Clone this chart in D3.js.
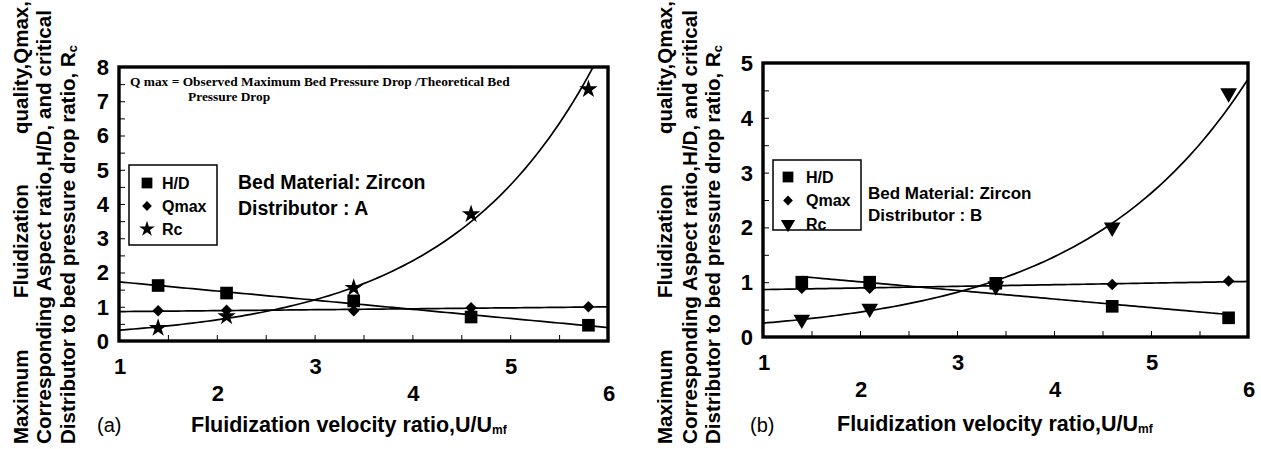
<!DOCTYPE html>
<html>
<head>
<meta charset="utf-8">
<script src="https://cdn.jsdelivr.net/npm/d3@7"></script>
<style>
  body { margin: 0; background: #fff; }
  svg { display: block; font-family: Arial, "Liberation Sans", sans-serif; }
</style>
</head>
<body>
<div id="chart"></div>
<script>
// velocity ratio U/Umf of the five runs (same for both distributors)
const velocity = [1.4, 2.1, 3.4, 4.6, 5.8];

// distributor A
const hdA = [1.62, 1.4, 1.17, 0.7, 0.46];
const qmaxA = [0.88, 0.9, 0.88, 0.97, 1.0];
const rcA = [0.38, 0.72, 1.55, 3.7, 7.35];

// distributor B
const hdB = [1.0, 1.0, 0.98, 0.56, 0.35];
const qmaxB = [0.89, 0.89, 0.93, 0.96, 1.02];
const rcB = [0.32, 0.52, 0.93, 2.0, 4.45];

const xTicks = [1, 2, 3, 4, 5, 6];
const yTicksA = [0, 1, 2, 3, 4, 5, 6, 7, 8];
const yTicksB = [0, 1, 2, 3, 4, 5];
const legendNames = ['H/D', 'Qmax', 'Rc'];

const W = 1261, H = 449;
const svg = d3.select('#chart').append('svg')
  .attr('width', W)
  .attr('height', H)
  .attr('viewBox', [0, 0, W, H]);

svg.append('rect').attr('width', W).attr('height', H).attr('fill', '#fff');

// simple least squares, linear or on ln(y) for the exponential trend
function linFit(xs, ys) {
  const mx = d3.mean(xs), my = d3.mean(ys);
  let sxy = 0, sxx = 0;
  xs.forEach((x, i) => {
    sxy += (x - mx) * (ys[i] - my);
    sxx += (x - mx) * (x - mx);
  });
  const b = sxy / sxx;
  return { b, a: my - b * mx };
}

function linTrend(xs, ys) {
  const f = linFit(xs, ys);
  return x => f.a + f.b * x;
}

function expTrend(xs, ys) {
  const f = linFit(xs, ys.map(Math.log));
  return x => Math.exp(f.a + f.b * x);
}

const diamond = d3.symbol().type(d3.symbolSquare).size(66);
const square = d3.symbol().type(d3.symbolSquare).size(160);
const star = d3.symbol().type(d3.symbolStar).size(105);
const tri = d3.symbol().type(d3.symbolTriangle).size(120);

function drawPanel(p) {
  const x = d3.scaleLinear().domain([1, 6]).range([p.left, p.right]);
  const y = d3.scaleLinear().domain([0, p.yMax]).range([p.bottom, p.top]);
  const g = svg.append('g');

  const clipId = 'clip' + p.id;
  g.append('clipPath').attr('id', clipId)
    .append('rect')
    .attr('x', p.left).attr('y', p.top)
    .attr('width', p.right - p.left).attr('height', p.bottom - p.top);

  // ticks every 0.5, drawn inward
  const xAxis = d3.axisTop(x).tickValues(d3.range(1, 6.01, 0.5)).tickSize(6).tickFormat('');
  g.append('g').attr('transform', `translate(0,${p.bottom})`).call(xAxis)
    .call(a => a.select('.domain').remove())
    .selectAll('line').attr('stroke', '#000').attr('stroke-width', 1);

  const yAxis = d3.axisRight(y).tickValues(d3.range(0, p.yMax + 0.01, 0.5)).tickSize(6).tickFormat('');
  g.append('g').attr('transform', `translate(${p.left},0)`).call(yAxis)
    .call(a => a.select('.domain').remove())
    .selectAll('line').attr('stroke', '#000').attr('stroke-width', 1);

  // tick labels
  g.append('g').selectAll('text').data(p.yTicks).join('text')
    .attr('x', p.left - 10)
    .attr('y', d => y(d))
    .attr('dy', '0.36em')
    .attr('text-anchor', 'end')
    .attr('font-size', 22)
    .attr('font-weight', 'bold')
    .text(d => d);

  g.append('g').selectAll('text').data(xTicks).join('text')
    .attr('x', d => x(d) + 1)
    .attr('y', d => d % 2 === 1 ? p.bottom + 33 : p.bottom + 60)
    .attr('text-anchor', 'middle')
    .attr('font-size', 22)
    .attr('font-weight', 'bold')
    .text(d => d);

  // trend lines
  const lines = g.append('g').attr('clip-path', `url(#${clipId})`)
    .attr('fill', 'none').attr('stroke', '#000').attr('stroke-width', 1.7);
  p.series.forEach(s => {
    const [x0, x1] = s.span;
    const pts = d3.range(0, 101).map(i => {
      const xv = x0 + (x1 - x0) * i / 100;
      return [xv, s.trend(xv)];
    });
    lines.append('path')
      .attr('d', d3.line().x(d => x(d[0])).y(d => y(d[1]))(pts));
  });

  // markers
  p.series.forEach(s => {
    g.append('g').selectAll('path').data(s.values).join('path')
      .attr('transform', (d, i) => `translate(${x(velocity[i])},${y(d)}) rotate(${s.rot})`)
      .attr('d', s.shape)
      .attr('fill', '#000');
  });

  // frame
  g.append('rect')
    .attr('x', p.left).attr('y', p.top)
    .attr('width', p.right - p.left).attr('height', p.bottom - p.top)
    .attr('fill', 'none').attr('stroke', '#000').attr('stroke-width', 3.4);

  // legend
  const lg = g.append('g').attr('transform', `translate(${p.legend[0]},${p.legend[1]})`);
  lg.append('rect')
    .attr('width', p.legend[2]).attr('height', p.legend[3])
    .attr('fill', '#fff').attr('stroke', '#000').attr('stroke-width', 1.5);
  p.series.forEach((s, i) => {
    const yy = p.legendRow0 + i * p.legendStep;
    lg.append('path')
      .attr('transform', `translate(${p.legendMarkX},${yy}) rotate(${s.rot}) scale(0.85)`)
      .attr('d', s.shape).attr('fill', '#000');
    lg.append('text')
      .attr('x', p.legendTextX).attr('y', yy).attr('dy', '0.36em')
      .attr('font-size', 16).attr('font-weight', 'bold')
      .text(legendNames[i]);
  });

  // annotations
  p.labels.forEach(l => {
    g.append('text')
      .attr('x', l[0]).attr('y', l[1])
      .attr('font-size', p.labelSize).attr('font-weight', 'bold')
      .text(l[2]);
  });

  // x title with subscript
  const xt = g.append('text')
    .attr('x', p.xTitle[0]).attr('y', p.xTitle[1])
    .attr('font-size', 21.5).attr('font-weight', 'bold');
  xt.append('tspan').text('Fluidization velocity ratio,U/U');
  xt.append('tspan').attr('font-size', 12).attr('dy', 2).text('mf');

  g.append('text')
    .attr('x', p.tag[0]).attr('y', p.tag[1])
    .attr('font-size', 20)
    .text(p.tag[2]);

  // y title, three rotated lines
  const cols = p.yTitleX;
  const rot = (tx, ty) => `translate(${tx},${ty}) rotate(-90)`;
  const yt = g.append('g').attr('font-size', 20.5).attr('font-weight', 'bold');
  yt.append('text').attr('transform', rot(cols[0], 444)).text('Maximum');
  yt.append('text').attr('transform', rot(cols[0], 298)).text('Fluidization');
  yt.append('text').attr('transform', rot(cols[0], 134)).text('quality,Qmax,');
  yt.append('text').attr('transform', rot(cols[1], 444))
    .attr('textLength', 434).attr('lengthAdjust', 'spacingAndGlyphs')
    .text('Corresponding Aspect ratio,H/D, and critical');
  const t3 = yt.append('text').attr('transform', rot(cols[2], 444));
  t3.append('tspan').text('Distributor to bed pressure drop ratio, R');
  t3.append('tspan').attr('font-size', 13).attr('dy', 2).text('c');
}

const trendSpan = [1, 6];

drawPanel({
  id: 'a', left: 119, right: 608, top: 67, bottom: 341, yMax: 8, yTicks: yTicksA,
  series: [
    { values: hdA, shape: square, rot: 0, trend: linTrend(velocity, hdA), span: trendSpan },
    { values: qmaxA, shape: diamond, rot: 45, trend: linTrend(velocity, qmaxA), span: trendSpan },
    { values: rcA, shape: star, rot: 0, trend: expTrend(velocity, rcA), span: trendSpan }
  ],
  legend: [129, 165, 88, 80], legendRow0: 18, legendStep: 23, legendMarkX: 18, legendTextX: 33,
  labels: [[238, 189, 'Bed Material: Zircon'], [238, 215, 'Distributor : A']], labelSize: 19.5,
  xTitle: [191, 432], tag: [97, 432, '(a)'],
  yTitleX: [28, 51, 75]
});

drawPanel({
  id: 'b', left: 763, right: 1248, top: 63, bottom: 337, yMax: 5, yTicks: yTicksB,
  series: [
    { values: hdB, shape: square, rot: 0, trend: linTrend(velocity, hdB), span: [velocity[0], velocity[4]] },
    { values: qmaxB, shape: diamond, rot: 45, trend: linTrend(velocity, qmaxB), span: trendSpan },
    { values: rcB, shape: tri, rot: 180, trend: expTrend(velocity, rcB), span: trendSpan }
  ],
  legend: [773, 160, 88, 70], legendRow0: 17, legendStep: 23.5, legendMarkX: 15, legendTextX: 33,
  labels: [[868, 199, 'Bed Material: Zircon'], [868, 221, 'Distributor : B']], labelSize: 17,
  xTitle: [837, 431], tag: [750, 432, '(b)'],
  yTitleX: [672, 697, 720]
});

// definition note, serif like the original
svg.append('text')
  .attr('x', 130).attr('y', 86)
  .attr('font-family', '"Liberation Serif", "Times New Roman", serif')
  .attr('font-size', 13.4).attr('font-weight', 'bold')
  .text('Q max = Observed Maximum Bed Pressure Drop /Theoretical Bed');
svg.append('text')
  .attr('x', 188).attr('y', 101)
  .attr('font-family', '"Liberation Serif", "Times New Roman", serif')
  .attr('font-size', 13.4).attr('font-weight', 'bold')
  .text('Pressure Drop');
</script>
</body>
</html>
